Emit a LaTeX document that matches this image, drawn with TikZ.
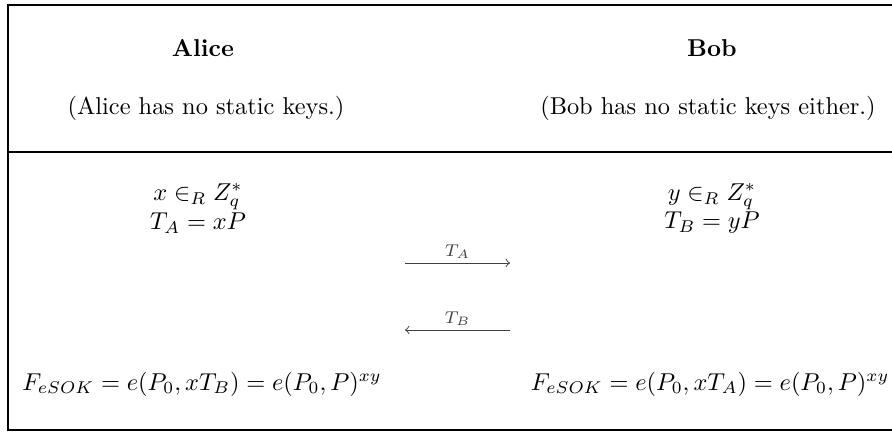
\documentclass[tikz,border=0pt]{standalone}
\usepackage{amsmath,amssymb}
\begin{document}
\begin{tikzpicture}[x=0.41pt,y=-0.41pt,
  txt/.style={inner sep=0pt,anchor=center},
  frame/.style={line width=0.7pt,black},
  msg/.style={line width=0.4pt,black!75,-to},
  lbl/.style={inner sep=1.5pt,anchor=south,font=\scriptsize}]
\useasboundingbox (0,0) rectangle (892,432);
\begin{scope}
\clip (0,0) rectangle (892,432);
\draw[frame] (8,5) rectangle (905,430);
\draw[frame] (8,152) -- (905,152);
\end{scope}
\node[txt] (alice) at (203,48) {\textbf{Alice}};
\node[txt] (bob) at (712,48) {\textbf{Bob}};
\node[txt] (an) at (206,108) {(Alice has no static keys.)};
\node[txt] (bn) at (708,108) {(Bob has no static keys either.)};
\node[txt] (ac1) at (198,197) {$x \in_R Z_q^*$};
\node[txt] (ac2) at (198,223) {$T_A = xP$};
\node[txt] (bc1) at (712,197) {$y \in_R Z_q^*$};
\node[txt] (bc2) at (712,223) {$T_B = yP$};
\coordinate (a1) at (405,263);
\coordinate (a2) at (510,263);
\coordinate (b1) at (510,330);
\coordinate (b2) at (405,330);
\draw[msg] (a1) -- node[lbl] {$T_A$} (a2);
\draw[msg] (b1) -- node[lbl] {$T_B$} (b2);
\node[txt] (af) at (202,384) {$F_{eSOK} = e(P_0, xT_B) = e(P_0,P)^{xy}$};
\node[txt] (bf) at (710,384) {$F_{eSOK} = e(P_0, xT_A) = e(P_0,P)^{xy}$};
\end{tikzpicture}
\end{document}
